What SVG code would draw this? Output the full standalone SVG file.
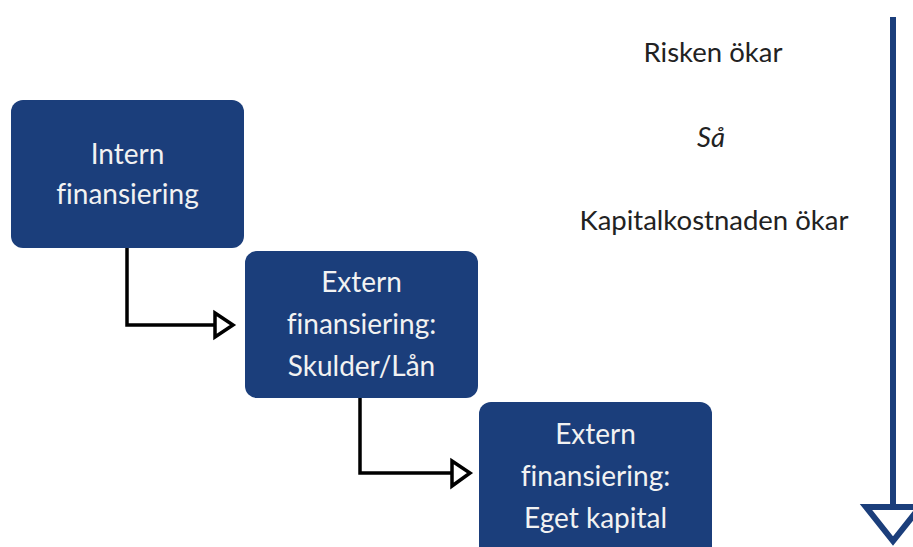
<svg xmlns="http://www.w3.org/2000/svg" width="913" height="547" viewBox="0 0 913 547">
<style>
.box{fill:#1b3e7b;}
.bt{font-family:Lato,"Open Sans","Liberation Sans",sans-serif;font-size:28px;fill:#f2f2f2;text-anchor:middle;font-variant-ligatures:none;}
.rt{font-family:Lato,"Open Sans","Liberation Sans",sans-serif;font-size:27.5px;fill:#222;text-anchor:middle;font-variant-ligatures:none;}
.conn{fill:none;stroke:#000;stroke-width:3.5;}
.head{fill:#fff;stroke:#000;stroke-width:3.5;stroke-linejoin:miter;}
</style>
<rect width="913" height="547" fill="#fff"/>
<g id="node-intern">
<rect class="box" x="11" y="100" width="233" height="148" rx="12"/>
<text class="bt" x="127.5" y="164">Intern</text>
<text class="bt" x="127.5" y="204">finansiering</text>
</g>
<g id="node-skulder">
<rect class="box" x="245" y="251" width="233" height="147" rx="12"/>
<text class="bt" x="361.5" y="292">Extern</text>
<text class="bt" x="361.5" y="334">finansiering:</text>
<text class="bt" x="361.5" y="376">Skulder/Lån</text>
</g>
<g id="node-eget">
<rect class="box" x="479" y="402" width="233" height="160" rx="12"/>
<text class="bt" x="595.5" y="444">Extern</text>
<text class="bt" x="595.5" y="486">finansiering:</text>
<text class="bt" x="595.5" y="528">Eget kapital</text>
</g>
<g id="labels">
<text class="rt" x="713" y="62">Risken ökar</text>
<text class="rt" x="711" y="147" font-style="italic">Så</text>
<text class="rt" x="714" y="230">Kapitalkostnaden ökar</text>
</g>
<g id="connectors">
<polyline class="conn" points="127,248 127,325 215,325"/>
<polygon class="head" points="215,313 233,325 215,337"/>
<polyline class="conn" points="360,398 360,473 452,473"/>
<polygon class="head" points="452,461 470,473 452,486"/>
<line x1="893" y1="17" x2="893" y2="505" stroke="#1b3e7b" stroke-width="6"/>
<polygon points="866,507 920,507 893,541" fill="#fff" stroke="#1b3e7b" stroke-width="6" stroke-linejoin="miter"/>
</g>
</svg>
